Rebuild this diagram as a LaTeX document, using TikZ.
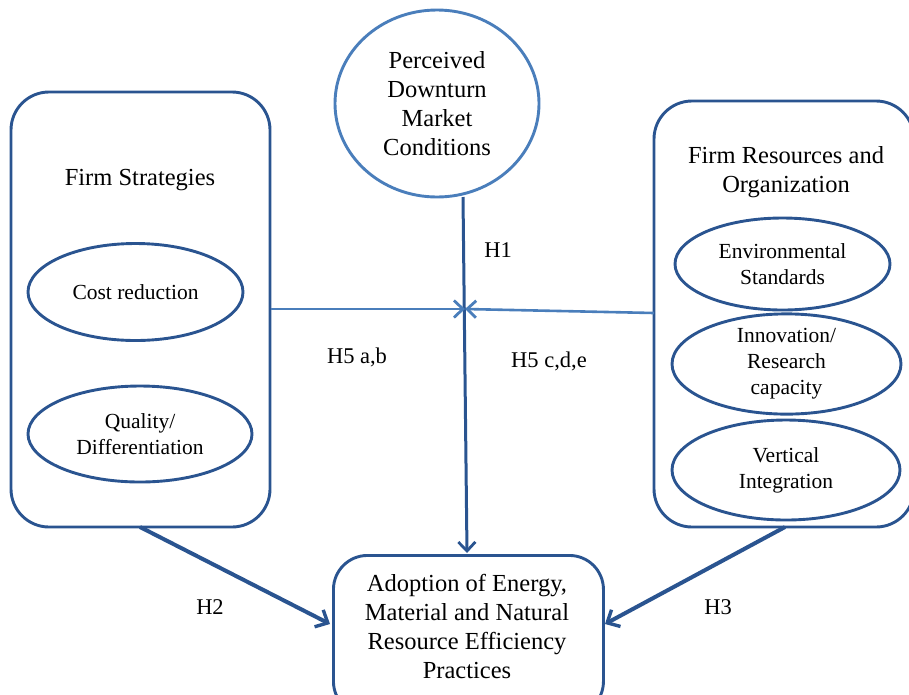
\documentclass[tikz,border=0pt]{standalone}
\usepackage{fontspec}
\setmainfont{Liberation Serif}
\usetikzlibrary{shapes.geometric,arrows.meta}
\definecolor{dkblue}{HTML}{2A5490}
\definecolor{ltblue}{HTML}{4A7EBB}
\begin{document}
\begin{tikzpicture}[x=1pt,y=-1pt,
  bigbox/.style={draw=dkblue,line width=2.9pt,rounded corners=38pt},
  oval/.style={draw=dkblue,line width=2.9pt,ellipse,inner sep=0pt,align=center,font=\fontsize{21.5}{26}\selectfont},
  title/.style={align=center,font=\fontsize{24.5}{29}\selectfont},
  hlab/.style={font=\fontsize{22.5}{26}\selectfont},
  bigarrow/.style={draw=dkblue,line width=4pt,-{Straight Barb[length=10pt,width=19pt,line width=3.4pt]}},
  thinarrow/.style={draw=ltblue,line width=2.6pt,-{Straight Barb[length=9pt,width=17pt,line width=2.8pt]}},
  vertarrow/.style={draw=dkblue,line width=3pt,-{Straight Barb[length=9pt,width=17pt,line width=2.8pt]}}]
\useasboundingbox (0,0) rectangle (909,694);
\clip (0,0) rectangle (909,694);
% left box
\draw[bigbox] (11,92) rectangle (270,527);
\node[title] (fs) at (140,180) {Firm Strategies};
\node[oval,minimum width=215pt,minimum height=97pt] (cost) at (135.5,292) {Cost reduction};
\node[oval,minimum width=224pt,minimum height=96pt] (qual) at (140,434) {Quality/\\Differentiation};
\coordinate (lbR) at (271,309);
\coordinate (lbB) at (140,527);
% right box
\draw[bigbox] (654,101) rectangle (914,527);
\node[title] (fr) at (786,172) {Firm Resources and\\Organization};
\node[oval,minimum width=215pt,minimum height=92pt] (env) at (782.5,264) {Environmental\\Standards};
\node[oval,minimum width=229pt,minimum height=96pt] (inn) at (786.5,364) {Innovation/\\Research\\capacity};
\node[oval,minimum width=228pt,minimum height=100pt] (vert) at (786,470) {Vertical\\Integration};
\coordinate (rbL) at (654,313);
\coordinate (rbB) at (785,527);
% top ellipse
\node[draw=ltblue,line width=2.9pt,ellipse,minimum width=204pt,minimum height=187pt,inner sep=0pt,align=center,font=\fontsize{24.5}{29}\selectfont] (pd) at (437,103.5) {Perceived\\Downturn\\Market\\Conditions};
% bottom box
\node[draw=dkblue,line width=2.9pt,rounded corners=34pt,minimum width=270pt,minimum height=160pt,anchor=north west] (ad) at (332,554) {};
\node[title] (adt) at (467,626) {Adoption of Energy,\\Material and Natural\\Resource Efficiency\\Practices};
% connectors
\coordinate (pdB) at (463,197);
\coordinate (adT) at (467,553);
\coordinate (mid) at (465,309);
\draw[vertarrow] (pdB) -- (adT);
\draw[thinarrow] (lbR) -- (mid);
\draw[thinarrow] (rbL) -- (mid);
\draw[bigarrow] (lbB) -- (330,624);
\draw[bigarrow] (rbB) -- (605,624);
% labels
\node[hlab] (h1) at (498,250) {H1};
\node[hlab] (h5ab) at (357,357) {H5 a,b};
\node[hlab] (h5cde) at (549,361) {H5 c,d,e};
\node[hlab] (h2) at (210,607) {H2};
\node[hlab] (h3) at (718,607) {H3};
\end{tikzpicture}
\end{document}
